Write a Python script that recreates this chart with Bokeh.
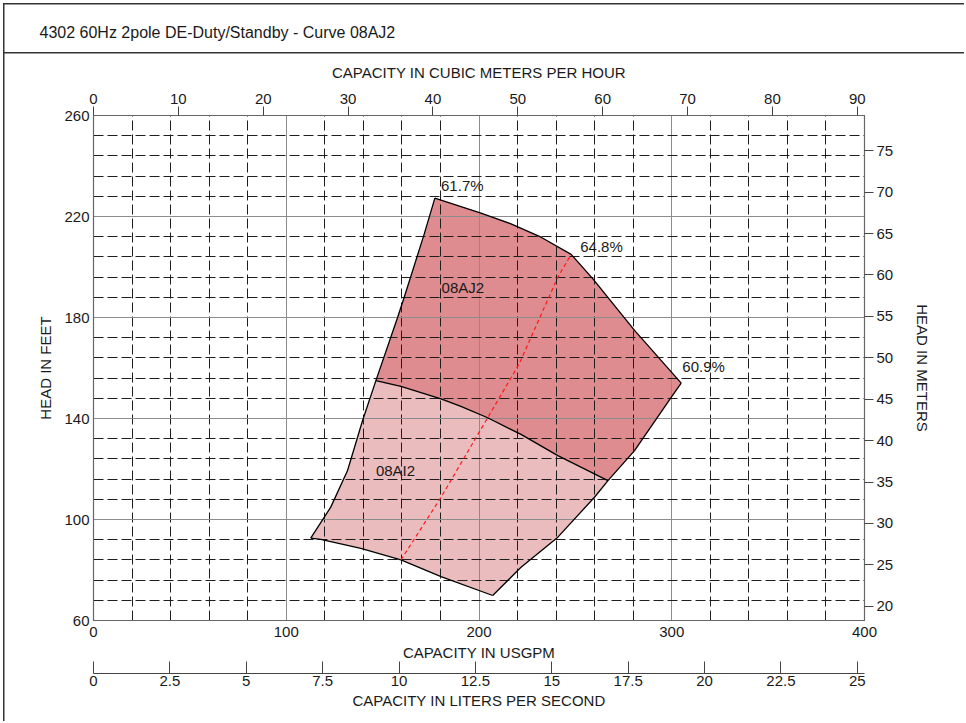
import numpy as np
from bokeh.plotting import figure
from bokeh.models import Range1d, LinearAxis, FixedTicker, ColumnDataSource, Title
from bokeh.core.properties import value
from bokeh.embed import file_html
from bokeh.resources import INLINE

FONT = "Liberation Sans"
TXT = "#1a1a1a"

# ---------------- data ----------------
title_text = "4302 60Hz 2pole DE-Duty/Standby - Curve 08AJ2"

# AJ2 (max impeller) head curve, USGPM / ft
aj2_q = [177.1, 201.0, 216.6, 232.2, 247.8, 259.1, 280.7, 304.9]
aj2_h = [227.3, 221.3, 217.1, 211.8, 205.0, 195.3, 174.9, 154.0]
# end-of-curve (max flow) boundary, top to bottom
eoc_q = [304.9, 299.7, 280.7, 266.9, 259.9, 240.9, 221.8, 207.1]
eoc_h = [154.0, 148.4, 127.3, 115.4, 108.8, 93.0, 81.1, 69.9]
# AI2 (min impeller) head curve, right to left
ai2_q = [207.1, 180.3, 159.5, 138.7, 117.9, 112.7]
ai2_h = [69.9, 77.4, 84.0, 88.6, 92.1, 92.6]
# min flow boundary, bottom to top
sof_q = [112.7, 123.1, 131.8, 139.6, 146.5, 157.8, 161.2, 171.6, 177.1]
sof_h = [92.6, 104.9, 119.4, 139.2, 155.0, 180.1, 188.0, 213.1, 227.3]
# boundary between AI2 and AJ2 zones, left to right
mid_q = [146.5, 159.5, 180.3, 190.6, 204.5, 221.8, 240.9, 266.9]
mid_h = [155.0, 152.7, 147.8, 144.8, 140.3, 133.7, 125.3, 115.4]
# best efficiency line
bep_q = [159.5, 180.3, 204.5, 220.9, 240.9, 247.8]
bep_h = [84.0, 108.8, 140.3, 161.7, 196.0, 205.0]

eff_values = [61.7, 64.8, 60.9]
eff_q = [180.3, 252.5, 305.5]
eff_h = [232.3, 208.1, 160.6]

curve_names = ["08AJ2", "08AI2"]
name_q = [180.6, 146.5]
name_h = [191.8, 119.4]

usgpm_ticks = [0, 100, 200, 300, 400]
head_ft_ticks = [60, 100, 140, 180, 220, 260]
m3h_ticks = [0, 10, 20, 30, 40, 50, 60, 70, 80, 90]
head_m_ticks = [20, 25, 30, 35, 40, 45, 50, 55, 60, 65, 70, 75]
lps_ticks = [0, 2.5, 5, 7.5, 10, 12.5, 15, 17.5, 20, 22.5, 25]
lps_tick_labels = ["0", "2.5", "5", "7.5", "10", "12.5", "15", "17.5", "20", "22.5", "25"]
q_minor_grid = [q for q in range(20, 400, 20) if q % 100]
h_minor_grid = [h for h in range(68, 260, 8) if (h - 60) % 40]

Q_MIN, Q_MAX = 0, 400
H_MIN, H_MAX = 60, 260
GPM_TO_M3H = 0.2271247
GPM_TO_LPS = 0.0630902
FT_TO_M = 0.3048

# ---------------- figure ----------------
W, H = 964, 721
BL, BR, BT, BB = 93, 100, 115, 101
p = figure(width=W, height=H, x_range=Range1d(Q_MIN, Q_MAX), y_range=Range1d(H_MIN, H_MAX),
           toolbar_location=None, output_backend="svg",
           min_border_left=BL, min_border_right=BR, min_border_top=BT, min_border_bottom=BB)
# outer frame of the sheet + title separator, drawn as CSS behind a transparent canvas border
p.styles = {"background": ("linear-gradient(#333,#333) 3px 3px / 1.5px 100% no-repeat, "
                           "linear-gradient(#333,#333) 3px 3px / 100% 1.5px no-repeat, "
                           "linear-gradient(#333,#333) 3px 52px / 100% 1.5px no-repeat, #ffffff")}
p.border_fill_color = None
p.background_fill_color = "white"
p.outline_line_color = "#666666"
p.outline_line_width = 1.2

p.extra_x_ranges = {"m3h": Range1d(Q_MIN * GPM_TO_M3H, Q_MAX * GPM_TO_M3H),
                    "lps": Range1d(Q_MIN * GPM_TO_LPS, Q_MAX * GPM_TO_LPS)}
p.extra_y_ranges = {"m": Range1d(H_MIN * FT_TO_M, H_MAX * FT_TO_M)}


def style_axis(ax, label, standoff, label_standoff, tick_out=0, tick_in=0):
    ax.axis_label = label
    ax.axis_label_text_font = FONT
    ax.axis_label_text_font_size = "15px"
    ax.axis_label_text_font_style = "normal"
    ax.axis_label_text_color = TXT
    ax.axis_label_standoff = label_standoff
    ax.major_label_text_font = FONT
    ax.major_label_text_font_size = "15px"
    ax.major_label_text_color = TXT
    ax.major_label_standoff = standoff
    ax.major_tick_out = tick_out
    ax.major_tick_in = tick_in
    ax.major_tick_line_color = "#444444"
    ax.minor_tick_line_color = None
    ax.axis_line_color = "#666666"


# grid
p.xgrid.ticker = FixedTicker(ticks=usgpm_ticks, minor_ticks=q_minor_grid)
p.ygrid.ticker = FixedTicker(ticks=head_ft_ticks, minor_ticks=h_minor_grid)
for g in (p.xgrid, p.ygrid):
    g.grid_line_color = "#8c8c8c"
    g.grid_line_width = 1
    g.minor_grid_line_color = "#1e1e1e"
    g.minor_grid_line_dash = "10 4"
    g.minor_grid_line_width = 1

# left axis (feet)
p.yaxis.ticker = FixedTicker(ticks=head_ft_ticks)
style_axis(p.yaxis[0], "HEAD IN FEET", 4, 7)
# bottom axis (USGPM)
p.xaxis.ticker = FixedTicker(ticks=usgpm_ticks)
style_axis(p.xaxis[0], "CAPACITY IN USGPM", 6, 4)

# top axis (m3/h)
top_ax = LinearAxis(x_range_name="m3h", ticker=FixedTicker(ticks=m3h_ticks))
style_axis(top_ax, "CAPACITY IN CUBIC METERS PER HOUR", 3, 10, tick_out=9)
p.add_layout(top_ax, "above")

# right axis (m)
right_ax = LinearAxis(y_range_name="m", ticker=FixedTicker(ticks=head_m_ticks))
style_axis(right_ax, "HEAD IN METERS", 3, 18, tick_out=9)
p.add_layout(right_ax, "right")

# invisible spacer between the two bottom axes (one white tick, empty label)
spacer = LinearAxis(ticker=FixedTicker(ticks=[20]), major_tick_out=10, major_tick_in=0,
                    axis_line_color=None, major_tick_line_color="white",
                    minor_tick_line_color=None, major_label_standoff=0,
                    major_label_overrides={20: ""})
p.add_layout(spacer, "below")

# liters per second axis
lps_ax = LinearAxis(x_range_name="lps", ticker=FixedTicker(ticks=lps_ticks))
style_axis(lps_ax, "CAPACITY IN LITERS PER SECOND", 2, 3, tick_out=0, tick_in=12)
lps_ax.axis_line_color = "#444444"
lps_ax.major_label_overrides = {t: s for t, s in zip(lps_ticks, lps_tick_labels)}
p.add_layout(lps_ax, "below")

# sheet title, stacked above the top axis
p.add_layout(Title(text=title_text, align="left", offset=39 - BL, standoff=40,
                   text_font=FONT, text_font_size="16px", text_font_style="normal",
                   text_color=TXT), "above")

# ---------------- regions ----------------
aj2_x = aj2_q + eoc_q[1:4] + mid_q[::-1][1:] + sof_q[5:]
aj2_y = aj2_h + eoc_h[1:4] + mid_h[::-1][1:] + sof_h[5:]
ai2_x = mid_q + eoc_q[4:] + ai2_q[1:] + sof_q[1:4]
ai2_y = mid_h + eoc_h[4:] + ai2_h[1:] + sof_h[1:4]

p.patch(ai2_x, ai2_y, fill_color="#ebbcbd", line_color=None, level="image")
p.patch(aj2_x, aj2_y, fill_color="#de8c8f", line_color=None, level="image")

p.multi_line(xs=[aj2_q, eoc_q, ai2_q, sof_q, mid_q], ys=[aj2_h, eoc_h, ai2_h, sof_h, mid_h],
             line_color="black", line_width=1.3)
p.line(bep_q, bep_h, line_color="#ff1a1a", line_width=1.2, line_dash="4 3")

eff_src = ColumnDataSource(dict(x=eff_q, y=eff_h, t=[f"{v}%" for v in eff_values]))
p.text(x="x", y="y", text="t", source=eff_src, text_font=value(FONT),
       text_font_size=value("15px"), text_color=TXT, text_baseline="middle", text_align="left")
name_src = ColumnDataSource(dict(x=name_q, y=name_h, t=curve_names))
p.text(x="x", y="y", text="t", source=name_src, text_font=value(FONT),
       text_font_size=value("15px"), text_color=TXT, text_baseline="middle", text_align="left")

open("out.html", "w").write(file_html(p, INLINE))
